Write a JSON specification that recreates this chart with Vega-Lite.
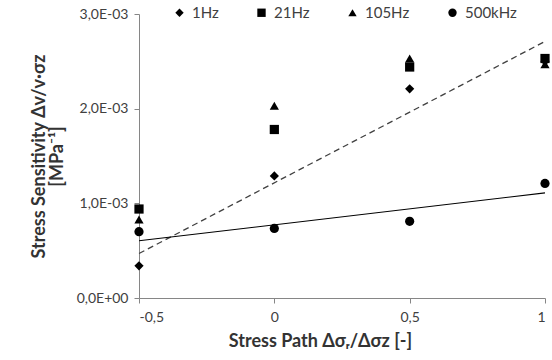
{
  "$schema": "https://vega.github.io/schema/vega-lite/v6.json",
  "width": 406,
  "height": 284,
  "autosize": {"type": "none"},
  "padding": {"left": 139, "top": 14, "right": 7, "bottom": 62},
  "background": "white",
  "config": {
    "view": {"stroke": null},
    "font": "Lato",
    "axis": {"grid": false, "domainColor": "#868686", "tickColor": "#868686", "labelColor": "#404040", "labelFont": "Lato", "labelFontSize": 14, "titleFont": "Lato", "titleFontSize": 18, "titleFontWeight": "bold", "titleColor": "#333333"}
  },
  "datasets": {
    "points": [
      {"x": -0.5, "y": 0.00034, "series": "1Hz"},
      {"x": 0, "y": 0.00129, "series": "1Hz"},
      {"x": 0.5, "y": 0.00221, "series": "1Hz"},
      {"x": 1, "y": 0.0025, "series": "1Hz"},
      {"x": -0.5, "y": 0.00094, "series": "21Hz"},
      {"x": 0, "y": 0.00178, "series": "21Hz"},
      {"x": 0.5, "y": 0.00244, "series": "21Hz"},
      {"x": 1, "y": 0.00253, "series": "21Hz"},
      {"x": -0.5, "y": 0.00083, "series": "105Hz"},
      {"x": 0, "y": 0.00203, "series": "105Hz"},
      {"x": 0.5, "y": 0.00253, "series": "105Hz"},
      {"x": 1, "y": 0.00247, "series": "105Hz"},
      {"x": -0.5, "y": 0.0007, "series": "500kHz"},
      {"x": 0, "y": 0.000735, "series": "500kHz"},
      {"x": 0.5, "y": 0.00081, "series": "500kHz"},
      {"x": 1, "y": 0.00121, "series": "500kHz"}
    ],
    "lines": [
      {"x": -0.5, "y": 0.00047, "fit": "dashed"},
      {"x": 1, "y": 0.00271, "fit": "dashed"},
      {"x": -0.5, "y": 0.000605, "fit": "solid"},
      {"x": 1, "y": 0.00111, "fit": "solid"}
    ]
  },
  "layer": [
    {
      "data": {"name": "lines"},
      "transform": [{"filter": "datum.fit == 'dashed'"}],
      "mark": {"type": "line", "color": "#404040", "strokeWidth": 1.3, "strokeDash": [6, 4]},
      "encoding": {
        "x": {"field": "x", "type": "quantitative"},
        "y": {"field": "y", "type": "quantitative"}
      }
    },
    {
      "data": {"name": "lines"},
      "transform": [{"filter": "datum.fit == 'solid'"}],
      "mark": {"type": "line", "color": "black", "strokeWidth": 1.1},
      "encoding": {
        "x": {"field": "x", "type": "quantitative"},
        "y": {"field": "y", "type": "quantitative"}
      }
    },
    {
      "data": {"name": "points"},
      "mark": {"type": "point", "filled": true, "color": "black", "opacity": 1, "size": 85},
      "encoding": {
        "x": {
          "field": "x", "type": "quantitative",
          "scale": {"domain": [-0.5, 1], "nice": false, "zero": false},
          "axis": {"values": [-0.5, 0, 0.5, 1], "labelExpr": "replace(toString(datum.value), '.', ',')", "title": "Stress Path Δσᵣ/Δσz [-]", "labelPadding": 7, "titlePadding": 8, "titleX": 181}
        },
        "y": {
          "field": "y", "type": "quantitative",
          "scale": {"domain": [0, 0.003], "nice": false},
          "axis": {"values": [0, 0.001, 0.002, 0.003], "labelExpr": "datum.value == 0 ? '0,0E+00' : replace(format(datum.value * 1000, '.1f'), '.', ',') + 'E-03'", "title": ["Stress Sensitivity Δv/v·σz", "[MPa⁻¹]"], "titlePadding": 10, "labelPadding": 6, "titleLineHeight": 18}
        },
        "shape": {
          "field": "series", "type": "nominal",
          "scale": {"domain": ["1Hz", "21Hz", "105Hz", "500kHz"], "range": ["diamond", "square", "triangle-up", "circle"]},
          "legend": {"title": null, "orient": "none", "direction": "horizontal", "legendX": 33, "legendY": -9, "columns": 4, "columnPadding": 35, "labelFontSize": 15, "labelColor": "#404040", "symbolFillColor": "black", "symbolStrokeColor": "black", "symbolSize": 70, "labelOffset": 5}
        }
      }
    }
  ]
}
